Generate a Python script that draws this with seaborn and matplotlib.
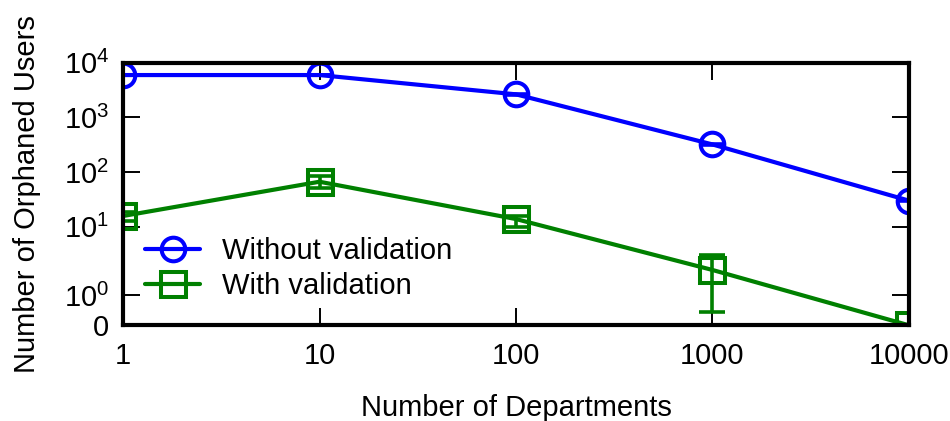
import numpy as np
import pandas as pd
import matplotlib
matplotlib.use("Agg")
import matplotlib.pyplot as plt
import seaborn as sns

# data
departments = [1, 10, 100, 1000, 10000]
without_val = [5950, 5950, 2640, 320, 30]
without_err_lo = [60, 60, 30, 4, 0.4]
without_err_hi = [60, 60, 30, 4, 0.4]
with_val = [15.7, 66.5, 13.8, 2.34, 0]
with_err_lo = [3, 15, 4, 1.9, 0]
with_err_hi = [3, 19, 2, 1.5, 0]

y_ticks = [0, 1, 10, 100, 1000, 10000]
y_ticklabels = ["0", "$10^0$", "$10^1$", "$10^2$", "$10^3$", "$10^4$"]
x_ticks = [1, 10, 100, 1000, 10000]
x_ticklabels = ["1", "10", "100", "1000", "10000"]


# y axis: log above 10, stretched log between 1 and 10, linear below 1
def fwd(y):
    y = np.asarray(y, dtype=float)
    with np.errstate(all="ignore"):
        lg = np.log10(np.maximum(y, 1e-300))
    return np.where(y >= 10, lg, np.where(y >= 1, -0.255 + 1.255 * lg, -0.804 + 0.549 * y))


def inv(u):
    u = np.asarray(u, dtype=float)
    with np.errstate(all="ignore"):
        a = 10.0 ** u
        b = 10.0 ** ((u + 0.255) / 1.255)
    return np.where(u >= 1, a, np.where(u >= -0.255, b, (u + 0.804) / 0.549))


sns.set_theme(style="ticks")
plt.rcParams["font.family"] = ["Liberation Sans", "DejaVu Sans"]
plt.rcParams["mathtext.default"] = "regular"
plt.rcParams["axes.edgecolor"] = "black"
plt.rcParams["text.color"] = "black"
plt.rcParams["xtick.color"] = "black"
plt.rcParams["ytick.color"] = "black"
plt.rcParams["axes.labelcolor"] = "black"

FS = 21

df = pd.DataFrame({
    "dept": departments * 2,
    "users": without_val + with_val,
    "kind": ["Without validation"] * 5 + ["With validation"] * 5,
})

fig, ax = plt.subplots(figsize=(9.5, 4.21), dpi=100)
fig.subplots_adjust(left=0.1295, right=0.9568, top=0.851, bottom=0.2273)

colors = {"Without validation": "#0000ff", "With validation": "#008000"}
markers = {"Without validation": "o", "With validation": "s"}
msizes = {"Without validation": 17, "With validation": 18}

for kind in ["Without validation", "With validation"]:
    sub = df[df["kind"] == kind]
    sns.lineplot(data=sub, x="dept", y="users", ax=ax, color=colors[kind],
                 marker=markers[kind], markersize=msizes[kind], markerfacecolor="none",
                 markeredgecolor=colors[kind], markeredgewidth=2.9,
                 linewidth=3.0, label=kind, errorbar=None)

ax.errorbar(departments, without_val, yerr=[without_err_lo, without_err_hi],
            fmt="none", ecolor="#0000ff", elinewidth=2.6, capsize=9.5, capthick=2.6)
ax.errorbar(departments, with_val, yerr=[with_err_lo, with_err_hi],
            fmt="none", ecolor="#008000", elinewidth=2.6, capsize=9.5, capthick=2.6)

ax.set_xscale("log")
ax.set_yscale("function", functions=(fwd, inv))
ax.set_xlim(1, 10000)
ax.set_ylim(0, 10000)

ax.set_xticks(x_ticks)
ax.set_xticklabels(x_ticklabels)
ax.set_yticks(y_ticks)
ax.set_yticklabels(y_ticklabels)
ax.minorticks_off()
ax.tick_params(axis="both", which="major", direction="in", length=12, width=1.4,
               top=True, right=True, labelsize=FS)
ax.tick_params(axis="x", pad=12)
ax.tick_params(axis="y", pad=10)

for sp in ax.spines.values():
    sp.set_linewidth(3.0)
    sp.set_color("black")

ax.set_xlabel("Number of Departments", fontsize=FS, labelpad=17)
ax.set_ylabel("Number of Orphaned Users", fontsize=FS, labelpad=16)

ax.legend(loc="center left", bbox_to_anchor=(0.028, 0.2155), frameon=False,
          fontsize=FS, handlelength=1.9, handletextpad=0.75, labelspacing=0.25,
          borderpad=0, borderaxespad=0)

fig.savefig("out.png", dpi=100)
